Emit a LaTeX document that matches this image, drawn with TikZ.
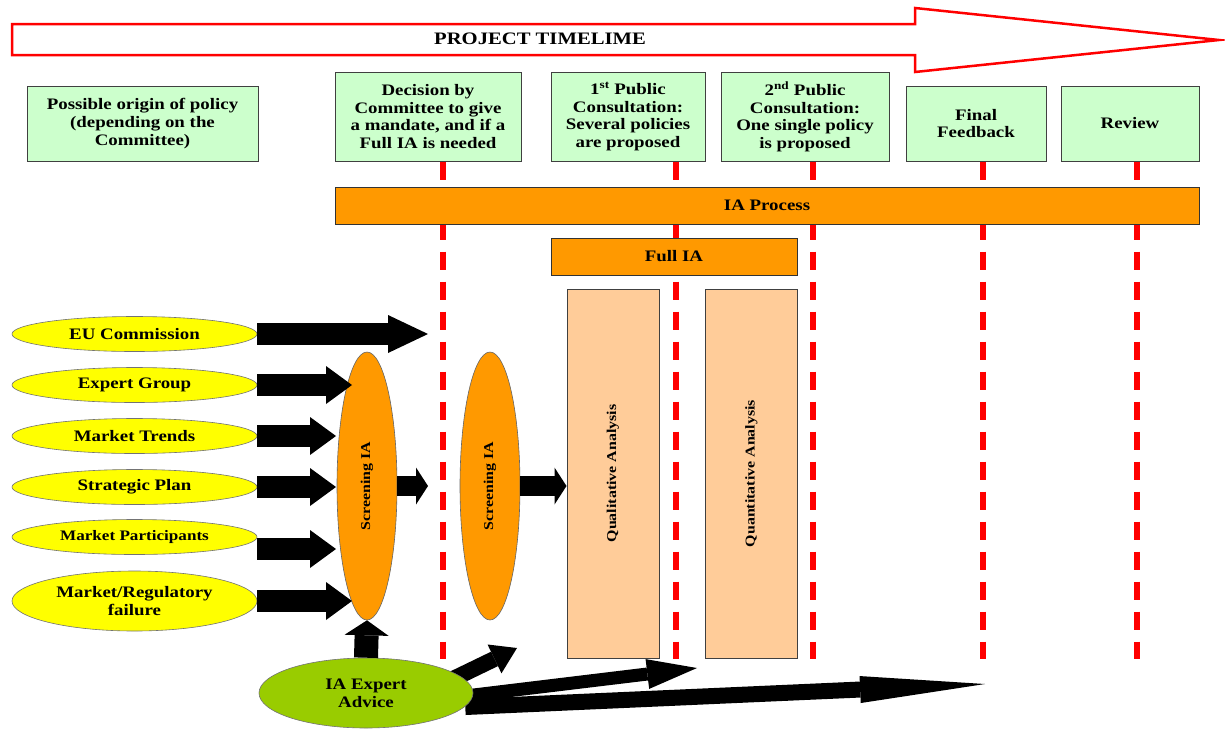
\documentclass[tikz,border=0pt]{standalone}
\usepackage{fontspec}
\setmainfont[FakeStretch=1.18]{Liberation Serif}
\usetikzlibrary{shapes.geometric,arrows.meta,positioning,backgrounds}

\definecolor{stagegreen}{HTML}{CCFFCC}
\definecolor{iaorange}{HTML}{FF9900}
\definecolor{analysispeach}{HTML}{FFCC99}
\definecolor{advicegreen}{HTML}{99CC00}
\definecolor{originyellow}{HTML}{FFFF00}

\tikzset{
  stagebox/.style={draw=black!75, line width=1pt, fill=stagegreen, align=center,
    inner sep=0pt, font=\bfseries\fontsize{16}{17.6}\selectfont},
  iabar/.style={draw=black!80, line width=1pt, fill=iaorange, inner sep=0pt,
    font=\bfseries\fontsize{16}{17.6}\selectfont},
  analysisbox/.style={draw=black!75, line width=1pt, fill=analysispeach, inner sep=0pt,
    minimum width=92pt, minimum height=369pt, font=\bfseries\fontsize{13.5}{15}\selectfont},
  origin/.style={ellipse, draw=black!55, line width=0.6pt, fill=originyellow, align=center,
    inner sep=0pt, minimum width=245pt, minimum height=35pt,
    font=\bfseries\fontsize{16}{17.6}\selectfont},
  screening/.style={ellipse, draw=black!60, line width=0.6pt, fill=iaorange, inner sep=0pt,
    minimum width=60pt, minimum height=268pt, font=\bfseries\fontsize{13.5}{15}\selectfont},
  milestone/.style={red, line width=6pt, dash pattern=on 18pt off 12pt},
  blockarrow/.style={line width=22pt, -{Triangle[width=38pt,length=26pt,line width=0pt]}},
  shortarrow/.style={line width=20pt, -{Triangle[width=37pt,length=12pt,line width=0pt]}},
  advicearrow/.style={line width=#1, -{Triangle[width=30pt,length=50pt,line width=0pt]}},
}

\begin{document}
\begin{tikzpicture}[x=1pt,y=-1pt]
\useasboundingbox (0,0) rectangle (1225,729);

% timeline
\draw [red, line width=2.5pt, line join=miter] (12,24) -- (915,24) -- (915,8) -- (1219,40)
  -- (915,72) -- (915,55) -- (12,55) -- cycle;
\node (timeline) at (540,39) {\bfseries\fontsize{17.5}{19}\selectfont PROJECT TIMELIME};

% stages
\node [stagebox, minimum width=231pt, minimum height=75pt] (origin) at (142.5,123.5)
  {Possible origin of policy\\(depending on the\\Committee)};
\node [stagebox, minimum width=186pt, minimum height=89pt] (decision) at (428,116.5)
  {Decision by\\Committee to give\\a mandate, and if a\\Full IA is needed};
\node [stagebox, minimum width=154pt, minimum height=89pt] (pub1) at (628,116.5)
  {1\textsuperscript{st} Public\\Consultation:\\Several policies\\are proposed};
\node [stagebox, minimum width=168pt, minimum height=89pt] (pub2) at (805,116.5)
  {2\textsuperscript{nd} Public\\Consultation:\\One single policy\\is proposed};
\node [stagebox, minimum width=140pt, minimum height=75pt] (final) at (976,123.5)
  {Final\\Feedback};
\node [stagebox, minimum width=138pt, minimum height=75pt] (review) at (1130,123.5)
  {Review};

% IA bars and analyses
\node [iabar, minimum width=864pt, minimum height=37pt] (process) at (767,205.5) {IA Process};
\node [iabar, minimum width=246pt, minimum height=37pt] (fullia) at (674,256.5) {Full IA};
\node [analysisbox] (qual) at (613,473.5) {\rotatebox{90}{Qualitative Analysis}};
\node [analysisbox] (quant) at (751.5,473.5) {\rotatebox{90}{Quantitative Analysis}};

% origins of policy
\node [origin] (eu) at (134.5,334) {EU Commission};
\node [origin] (expert) at (134.5,385) {Expert Group};
\node [origin] (trends) at (134.5,436) {Market Trends};
\node [origin] (plan) at (134.5,487) {Strategic Plan};
\node [origin, font=\bfseries\fontsize{14.5}{16}\selectfont] (partic) at (134.5,537) {Market Participants};
\node [origin, minimum height=60pt] (failure) at (134.5,601) {Market/Regulatory\\failure};

\node [screening] (scr1) at (367,486) {\rotatebox{90}{Screening IA}};
\node [screening] (scr2) at (490,486) {\rotatebox{90}{Screening IA}};

\node [ellipse, draw=black!55, line width=0.6pt, fill=advicegreen, align=center, inner sep=0pt,
  minimum width=214pt, minimum height=70pt, font=\bfseries\fontsize{16}{17.6}\selectfont]
  (advice) at (366,693) {IA Expert\\Advice};

\coordinate (tipdiag) at (517,648);
\coordinate (tipmid) at (697,668);
\coordinate (tiplong) at (985,684);

\begin{scope}[on background layer]
  \foreach \s/\x in {decision/443,pub1/676,pub2/813,final/983,review/1137}
    \draw [milestone] (\s.south -| \x,0) -- (\x,659);
  \draw [line width=16pt, -{Triangle[width=32pt,length=25pt,line width=0pt]}]
    ([xshift=-12pt]advice.8) -- (tipdiag);
  \draw [advicearrow=13pt] ([xshift=-8pt,yshift=-3pt]advice.east) -- (tipmid);
  \draw [line width=16pt, -{Triangle[width=27pt,length=125pt,line width=0pt]}]
    ([xshift=-8pt,yshift=-14pt]advice.east) -- (tiplong);
\end{scope}

% arrows into the screening
\draw [blockarrow, -{Triangle[width=38pt,length=40pt,line width=0pt]}] (eu.east) -- (eu.east -| decision.center);
\draw [blockarrow, shorten >=15pt] (expert.east) -- (expert.east -| scr1.center);
\draw [blockarrow, shorten >=31pt] (trends.east) -- (trends.east -| scr1.center);
\draw [blockarrow, shorten >=31pt] (plan.east) -- (plan.east -| scr1.center);
\draw [blockarrow, shorten >=31pt] ([yshift=-12pt]partic.east) -- ([yshift=-12pt]partic.east -| scr1.center);
\draw [blockarrow, shorten >=15pt] (failure.east) -- (failure.east -| scr1.center);
\draw [shortarrow] (scr1.east) -- (scr1.east -| decision.center);
\draw [shortarrow] (scr2.east) -- (scr2.east -| qual.west);
\draw [line width=24pt, -{Triangle[width=44pt,length=15pt,line width=0pt]}] (advice.north) -- (scr1.south);
\end{tikzpicture}
\end{document}
